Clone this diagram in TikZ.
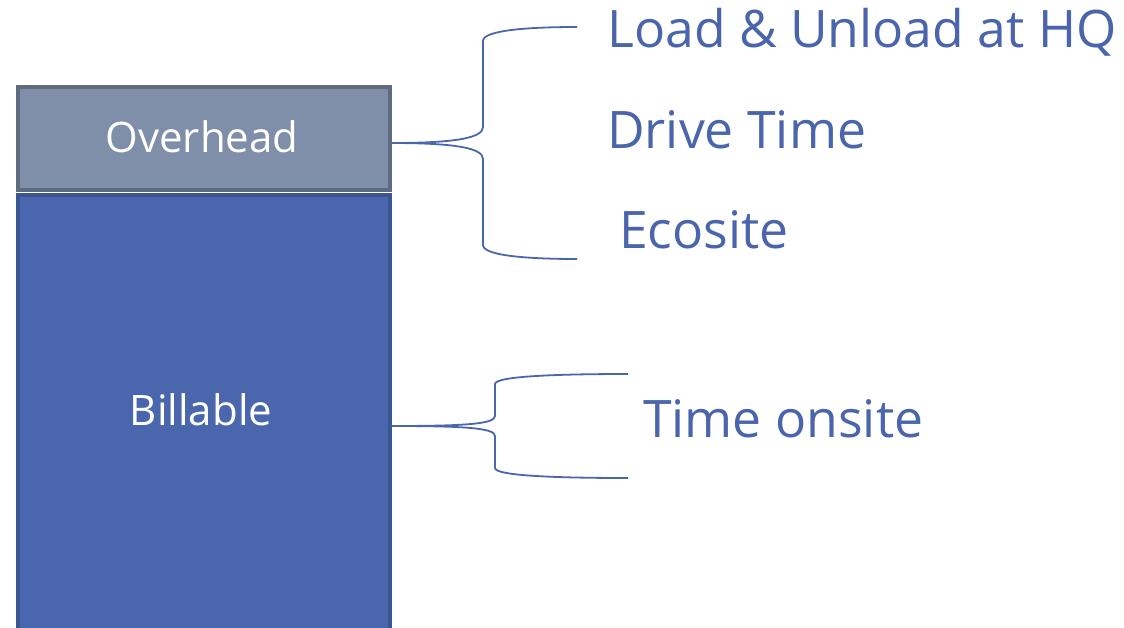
\documentclass[tikz,border=0pt]{standalone}
\usepackage{fontspec}
\setmainfont{Open Sans}
\definecolor{ovfill}{HTML}{7F8FA9}
\definecolor{ovdraw}{HTML}{5E6A7E}
\definecolor{bifill}{HTML}{4A67AD}
\definecolor{bidraw}{HTML}{3A5590}
\definecolor{txtblue}{HTML}{4A65AC}
\definecolor{brc}{HTML}{4A67AD}
\tikzset{
  px/.style={x=1pt,y=-1pt},
  lbl/.style={anchor=base west,inner sep=0pt,text=txtblue,font=\fontsize{51.7}{60}\selectfont},
  inlbl/.style={text=white,font=\fontsize{42}{50}\selectfont},
  brace/.style={draw=brc,line width=1.8pt}
}
\begin{document}
\begin{tikzpicture}[px]
\useasboundingbox (0,0) rectangle (1124,627);
\begin{scope}
\clip (0,0) rectangle (1124,627);
\node[draw=bidraw,fill=bifill,line width=3.5pt,minimum width=372pt,minimum height=445pt,anchor=north west,inner sep=0pt] (bill) at (16,193) {};
\end{scope}
\node[draw=ovdraw,fill=ovfill,line width=3.5pt,minimum width=372pt,minimum height=103pt,anchor=north west,inner sep=0pt] (over) at (16,85) {};
\node[inlbl] (overt) at (202,137) {Overhead};
\node[inlbl] (billt) at (201,410) {Billable};
\node[lbl] (t1) at (607,47) {Load \& Unload at HQ};
\node[lbl] (t2) at (607,148) {Drive Time};
\node[lbl] (t3) at (619,248) {Ecosite};
\node[lbl] (t4) at (643,437) {Time onsite};
\coordinate (tip1) at (over.east |- 0,143);
\coordinate (tip2) at (bill.east |- 0,426);
\coordinate (b1a) at (577,27);
\coordinate (b1b) at (577,259);
\coordinate (b2a) at (628,374);
\coordinate (b2b) at (628,478);
\draw[brace] (tip1) .. controls (455,143) and (483,138) .. (483,127) -- (483,41) .. controls (483,30) and (530,27) .. (b1a);
\draw[brace] (tip1) .. controls (455,143) and (483,148) .. (483,159) -- (483,245) .. controls (483,256) and (530,259) .. (b1b);
\draw[brace] (tip2) .. controls (465,426) and (495,424) .. (495,416) -- (495,384) .. controls (495,376) and (560,374) .. (b2a);
\draw[brace] (tip2) .. controls (465,426) and (495,428) .. (495,436) -- (495,468) .. controls (495,476) and (560,478) .. (b2b);
\end{tikzpicture}
\end{document}
